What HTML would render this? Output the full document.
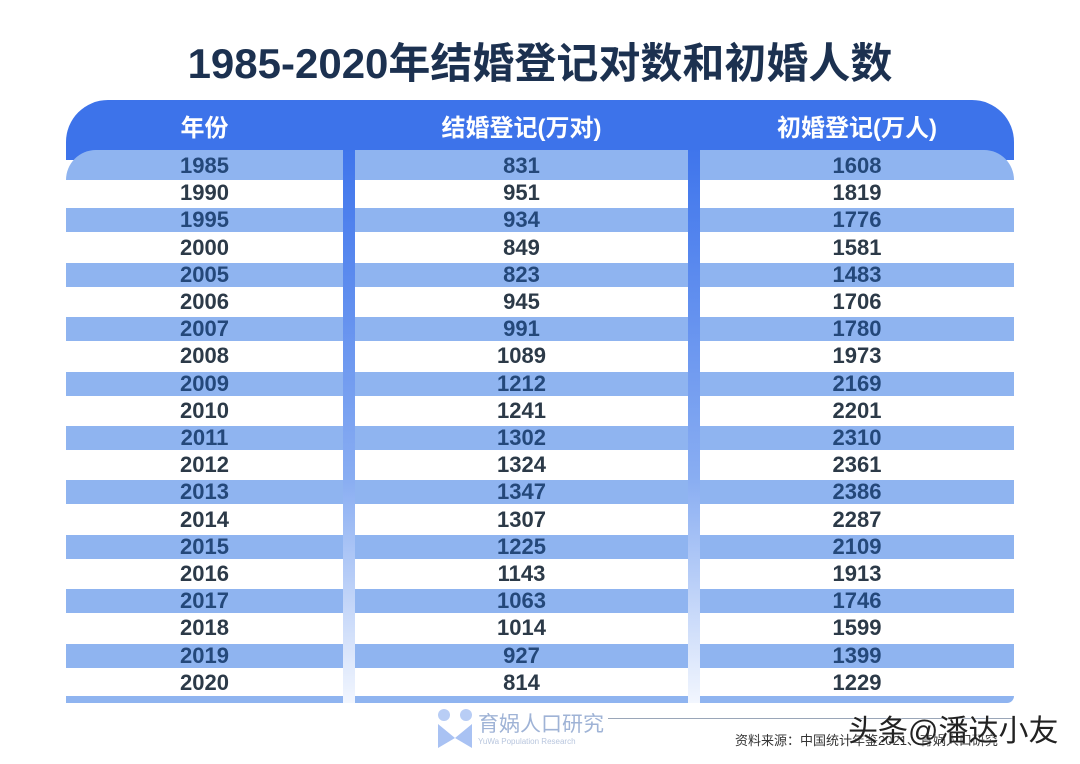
<!DOCTYPE html>
<html><head><meta charset="utf-8">
<style>
body{margin:0;width:1080px;height:764px;background:#fff;position:relative;overflow:hidden;font-family:"Liberation Sans","Noto Sans CJK SC",sans-serif;}
.abs{position:absolute;}
.title{left:0;width:1080px;top:30px;text-align:center;font-size:42px;font-weight:bold;color:#1c3150;letter-spacing:0px;}
.hdr{left:66px;top:100px;width:948px;height:60px;background:#3d73ea;border-radius:42px 42px 0 0;}
.ht{top:108px;color:#fff;font-size:24px;font-weight:bold;text-align:center;}
.band{background:#8fb4f0;}
.sep{width:12px;top:150px;height:553px;background:linear-gradient(#3f75ec,#8aaef2 60%,#f2f6fe);}
.cell{font-size:22px;font-weight:bold;text-align:center;line-height:27px;}
</style></head><body>
<div class="abs title">1985-2020年结婚登记对数和初婚人数</div>
<div class="abs hdr"></div>
<div class="abs ht" style="left:66px;width:277px">年份</div>
<div class="abs ht" style="left:355px;width:333px">结婚登记(万对)</div>
<div class="abs ht" style="left:700px;width:314px">初婚登记(万人)</div>
<div id="rows"></div>
<div class="abs band" style="left:66px;top:696px;width:948px;height:7px;border-radius:0 0 30px 0"></div>
<div class="abs sep" style="left:343px"></div>
<div class="abs sep" style="left:688px"></div>
<svg class="abs" style="left:437px;top:708px" width="36" height="42"><circle cx="7" cy="7" r="6" fill="#b8cdf5"/><circle cx="29" cy="7" r="6" fill="#b8cdf5"/><path d="M1 16 L18 30 L35 16 L35 40 L18 30 L1 40 Z" fill="#a9c2f3"/></svg>
<div class="abs" style="left:478px;top:708px;font-size:21px;color:#9fb3d6">育娲人口研究</div>
<div class="abs" style="left:478px;top:737px;font-size:8px;color:#b8c6de">YuWa Population Research</div>
<div class="abs" style="left:608px;top:718px;width:406px;height:1px;background:#9aa6b8"></div>
<div class="abs" style="left:735px;top:730px;font-size:13px;color:#333">资料来源：中国统计年鉴2021、育娲人口研究</div>
<div class="abs" style="left:848px;top:706px;font-size:30px;color:#222;text-shadow:0 0 2px #fff">头条@潘达小友</div>
<script>
const years=["1985","1990","1995","2000","2005","2006","2007","2008","2009","2010","2011","2012","2013","2014","2015","2016","2017","2018","2019","2020"];
const marriages=[831,951,934,849,823,945,991,1089,1212,1241,1302,1324,1347,1307,1225,1143,1063,1014,927,814];
const firstMarriages=[1608,1819,1776,1581,1483,1706,1780,1973,2169,2201,2310,2361,2386,2287,2109,1913,1746,1599,1399,1229];
const rows=document.getElementById('rows');
const cols=[[66,277],[355,333],[700,314]];
years.forEach((y,i)=>{
  const c=166+27.2*i;
  if(i%2===0){
    const b=document.createElement('div');
    b.className='abs band';
    b.style.cssText=`left:66px;top:${c-12}px;width:948px;height:24px;`+(i===0?'top:150px;height:30px;border-radius:34px 34px 0 0;':'');
    
    
    rows.appendChild(b);
  }
  const vals=[y,marriages[i],firstMarriages[i]];
  vals.forEach((v,j)=>{
    const d=document.createElement('div');
    d.className='abs cell';
    d.style.cssText=`left:${cols[j][0]}px;width:${cols[j][1]}px;top:${c-14}px;color:${i%2===0?'#24487a':'#2c3a48'}`;
    d.textContent=v;
    
    
    rows.appendChild(d);
  });
});
</script>
</body></html>
